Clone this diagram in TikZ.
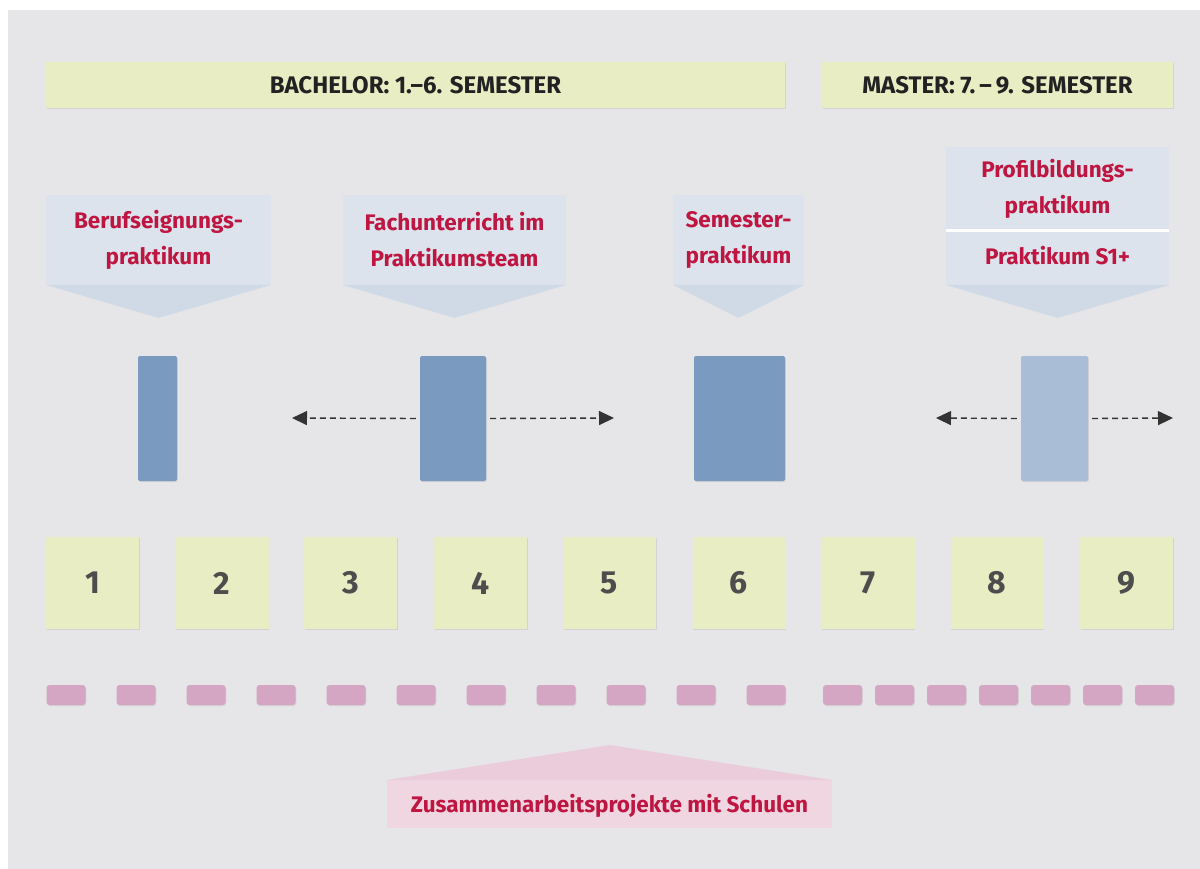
\documentclass[tikz,border=0pt]{standalone}
\usepackage{fontspec}
\setmainfont{Fira Sans}
\usetikzlibrary{arrows.meta,shadows}
\definecolor{bg}{HTML}{E6E6E8}
\definecolor{greenbox}{HTML}{E9EDC4}
\definecolor{callblue}{HTML}{DCE3EC}
\definecolor{calltri}{HTML}{D0DAE6}
\definecolor{barblue}{HTML}{7B9ABF}
\definecolor{barlight}{HTML}{A9BDD6}
\definecolor{crimson}{HTML}{BE1541}
\definecolor{pinkdash}{HTML}{D4A6C4}
\definecolor{pinkrect}{HTML}{F0D6E1}
\definecolor{pinktri}{HTML}{EACCDA}
\definecolor{numgray}{HTML}{4D4D4D}
\definecolor{headtext}{HTML}{222222}
\tikzset{
  shade/.style={drop shadow={shadow xshift=0.8pt,shadow yshift=-1pt,opacity=0.18}},
  headbox/.style={fill=greenbox,shade,inner sep=0pt,minimum height=46pt,
    font=\fontsize{24}{28}\selectfont\bfseries,text=headtext},
  numbox/.style={fill=greenbox,shade,inner sep=0pt,minimum width=93pt,minimum height=92pt,
    font=\fontsize{32}{36}\selectfont\bfseries,text=numgray},
  barbox/.style={fill=barblue,shade,rounded corners=2pt,inner sep=0pt,minimum height=125pt},
  pdash/.style={fill=pinkdash,shade,rounded corners=3pt,inner sep=0pt,minimum width=39pt,minimum height=20pt},
  ctext/.style={align=center,text=crimson,font=\fontsize{22.5}{36}\selectfont\bfseries,inner sep=0pt},
  dasharrow/.style={draw=black!80,line width=1.4pt,dash pattern=on 6pt off 4pt,
    -{Triangle[length=15pt,width=14pt]}}
}
\begin{document}
\begin{tikzpicture}[x=1pt,y=-1pt]
\useasboundingbox (0,0) rectangle (1200,869);
\fill[bg] (8,10) rectangle (1200,869);
% headers
\node[headbox,minimum width=739pt] (bach) at (415.5,85) {BACHELOR: 1.--6. SEMESTER};
\node[headbox,minimum width=351pt] (mast) at (997.5,85) {MASTER: 7.\,--\,9. SEMESTER};
% callouts
\fill[callblue] (46,195) rectangle (271,285);
\fill[calltri] (46,285) -- (271,285) -- (158.5,318) -- cycle;
\fill[callblue] (343,195) rectangle (566,285);
\fill[calltri] (343,285) -- (566,285) -- (454.5,318) -- cycle;
\fill[callblue] (673,195) rectangle (804,285);
\fill[calltri] (673,285) -- (804,285) -- (738.5,318) -- cycle;
\fill[callblue] (946,147) rectangle (1169,285);
\fill[calltri] (946,285) -- (1169,285) -- (1057.5,318) -- cycle;
\fill[white] (946,229.5) rectangle (1169,232.5);
\node[ctext] (c1) at (158.5,240) {Berufseignungs-\\praktikum};
\node[ctext] (c2) at (454.5,240) {Fachunterricht im\\Praktikumsteam};
\node[ctext] (c3) at (738.5,240) {Semester-\\praktikum};
\node[ctext] (c4) at (1057.5,189) {Profilbildungs-\\praktikum};
\node[ctext] (c5) at (1057.5,256) {Praktikum S1+};
% bars
\node[barbox,minimum width=39pt] (b1) at (157.5,418.5) {};
\node[barbox,minimum width=66pt] (b2) at (453,418.5) {};
\node[barbox,minimum width=91pt] (b3) at (739.5,418.5) {};
\node[barbox,fill=barlight,minimum width=67pt] (b4) at (1054.5,418.5) {};
\coordinate (a1l) at (292,418);
\coordinate (a1r) at (614,418);
\coordinate (a2l) at (936,418);
\coordinate (a2r) at (1173,418);
\draw[dasharrow] ([xshift=-4pt]b2.west) -- (a1l);
\draw[dasharrow] ([xshift=4pt]b2.east) -- (a1r);
\draw[dasharrow] ([xshift=-4pt]b4.west) -- (a2l);
\draw[dasharrow] ([xshift=4pt]b4.east) -- (a2r);
% number boxes
\node[numbox] (n1) at (92.5,583) {1};
\node[numbox] (n2) at (222,583) {2};
\node[numbox] (n3) at (350.5,583) {3};
\node[numbox] (n4) at (480.5,583) {4};
\node[numbox] (n5) at (609.5,583) {5};
\node[numbox] (n6) at (739,583) {6};
\node[numbox] (n7) at (868,583) {7};
\node[numbox] (n8) at (997,583) {8};
\node[numbox] (n9) at (1126.5,583) {9};
% pink dashes
\foreach \i in {0,...,10} \node[pdash] (pb\i) at ({66+70*\i},695) {};
\foreach \i in {0,...,6} \node[pdash] (pm\i) at ({842.5+52*\i},695) {};
% bottom callout
\fill[pinkrect] (387,780) rectangle (832,828);
\fill[pinktri] (387,780) -- (832,780) -- (610,745) -- cycle;
\node[ctext] (zs) at (609.5,806) {Zusammenarbeitsprojekte mit Schulen};
\end{tikzpicture}
\end{document}
